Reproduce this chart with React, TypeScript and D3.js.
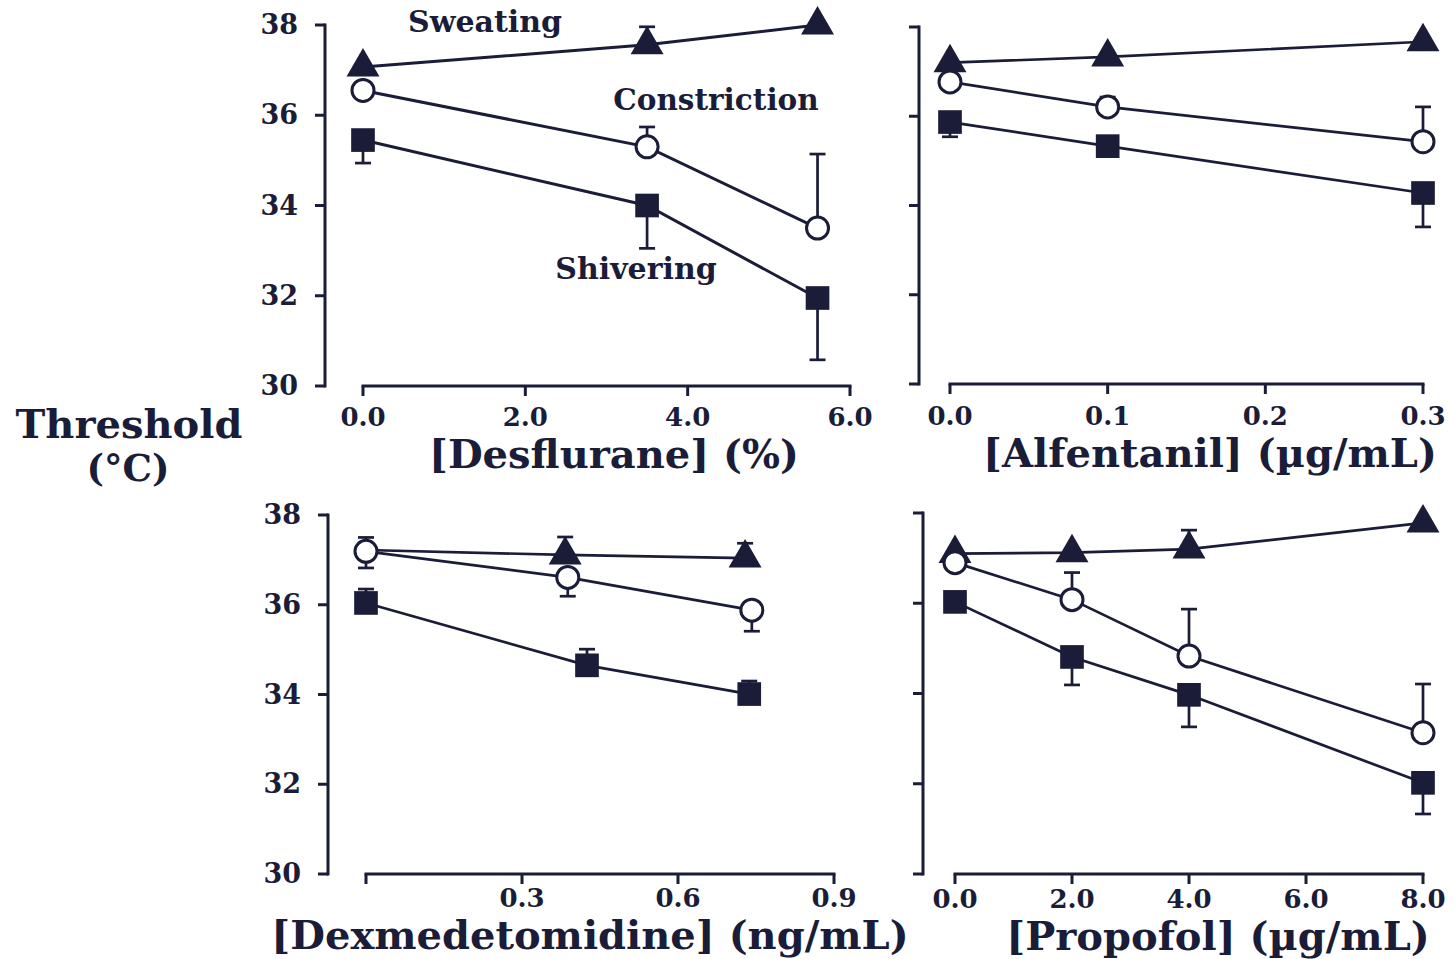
import React from 'react';
import * as d3 from 'd3';

const INK = '#1a1c38';
const FONT = '"DejaVu Serif", serif';

const yTicks = [30, 32, 34, 36, 38];

// Panel A: Desflurane
const desTicks = [0, 2, 4, 6];
const desTickLabels = ['0.0', '2.0', '4.0', '6.0'];
const desX = [0, 3.5, 5.6];
const desSweat = [37.07, 37.56, 38.0];
const desSweatErr = [0, 0.4, 0];
const desConstr = [36.55, 35.3, 33.5];
const desConstrErr = [0, 0.44, 1.64];
const desShiver = [35.45, 34.0, 31.95];
const desShiverErr = [-0.51, -0.95, -1.37];

// Panel B: Alfentanil
const alfTicks = [0, 0.1, 0.2, 0.3];
const alfTickLabels = ['0.0', '0.1', '0.2', '0.3'];
const alfX = [0, 0.1, 0.3];
const alfSweat = [37.2, 37.33, 37.67];
const alfSweatErr = [0, 0, 0];
const alfConstr = [36.77, 36.21, 35.43];
const alfConstrErr = [0, 0.22, 0.78];
const alfShiver = [35.87, 35.33, 34.28];
const alfShiverErr = [-0.33, 0, -0.76];

// Panel C: Dexmedetomidine
const dexTicks = [0, 0.3, 0.6, 0.9];
const dexTickLabels = ['', '0.3', '0.6', '0.9'];
const dexSweatX = [0, 0.383, 0.729];
const dexSweat = [37.22, 37.11, 37.04];
const dexSweatErr = [0.28, 0.4, 0.33];
const dexSweatShown = [false, true, true];
const dexConstrX = [0, 0.388, 0.742];
const dexConstr = [37.19, 36.61, 35.88];
const dexConstrErr = [-0.37, -0.42, -0.47];
const dexShiverX = [0, 0.425, 0.737];
const dexShiver = [36.04, 34.65, 34.01];
const dexShiverErr = [0.31, 0.36, 0.29];

// Panel D: Propofol
const proTicks = [0, 2, 4, 6, 8];
const proTickLabels = ['0.0', '2.0', '4.0', '6.0', '8.0'];
const proX = [0, 2, 4, 8];
const proSweat = [37.1, 37.12, 37.2, 37.78];
const proSweatErr = [0, 0, 0.42, 0];
const proConstr = [36.9, 36.08, 34.83, 33.13];
const proConstrErr = [0, 0.6, 1.04, 1.08];
const proShiver = [36.03, 34.81, 33.97, 32.02];
const proShiverErr = [0, -0.62, -0.71, -0.69];

type Marker = 'tri' | 'circle' | 'square';
interface Series { x: number[]; y: number[]; err: number[]; marker: Marker; shown?: boolean[] }
interface PanelCfg {
  axisX: number; xRange: [number, number]; yTop: number; yBottom: number;
  xDomain: [number, number]; ticks: number[]; tickLabels: string[]; tickDy: number;
  title: string; titleX: number; titleY: number; lineW: number;
  series: Series[];
}

const panels: PanelCfg[] = [
  {
    axisX: 325, xRange: [363, 850], yTop: 25, yBottom: 386, xDomain: [0, 6],
    ticks: desTicks, tickLabels: desTickLabels, tickDy: 40, title: '[Desflurane] (%)', titleX: 614, titleY: 468, lineW: 3,
    series: [
      { x: desX, y: desSweat, err: desSweatErr, marker: 'tri' },
      { x: desX, y: desConstr, err: desConstrErr, marker: 'circle' },
      { x: desX, y: desShiver, err: desShiverErr, marker: 'square' },
    ],
  },
  {
    axisX: 919, xRange: [950, 1423], yTop: 27, yBottom: 384, xDomain: [0, 0.3],
    ticks: alfTicks, tickLabels: alfTickLabels, tickDy: 41, title: '[Alfentanil] (µg/mL)', titleX: 1210, titleY: 467, lineW: 2.7,
    series: [
      { x: alfX, y: alfSweat, err: alfSweatErr, marker: 'tri' },
      { x: alfX, y: alfConstr, err: alfConstrErr, marker: 'circle' },
      { x: alfX, y: alfShiver, err: alfShiverErr, marker: 'square' },
    ],
  },
  {
    axisX: 328, xRange: [366, 834], yTop: 515, yBottom: 874, xDomain: [0, 0.9],
    ticks: dexTicks, tickLabels: dexTickLabels, tickDy: 33, title: '[Dexmedetomidine] (ng/mL)', titleX: 590, titleY: 949, lineW: 2.7,
    series: [
      { x: dexSweatX, y: dexSweat, err: dexSweatErr, marker: 'tri', shown: dexSweatShown },
      { x: dexConstrX, y: dexConstr, err: dexConstrErr, marker: 'circle' },
      { x: dexShiverX, y: dexShiver, err: dexShiverErr, marker: 'square' },
    ],
  },
  {
    axisX: 923, xRange: [955, 1423], yTop: 513, yBottom: 874, xDomain: [0, 8],
    ticks: proTicks, tickLabels: proTickLabels, tickDy: 34, title: '[Propofol] (µg/mL)', titleX: 1218, titleY: 950, lineW: 2.7,
    series: [
      { x: proX, y: proSweat, err: proSweatErr, marker: 'tri' },
      { x: proX, y: proConstr, err: proConstrErr, marker: 'circle' },
      { x: proX, y: proShiver, err: proShiverErr, marker: 'square' },
    ],
  },
];

const showYLabels = [true, false, true, false];

const triPath = d3.symbol(d3.symbolTriangle, 470)() as string;
const sqPath = d3.symbol(d3.symbolSquare, 560)() as string;

function Panel({ p, labels }: { p: PanelCfg; labels: boolean }) {
  const x = d3.scaleLinear().domain(p.xDomain).range(p.xRange);
  const y = d3.scaleLinear().domain([30, 38]).range([p.yBottom, p.yTop]);
  const line = d3.line<[number, number]>().x(d => x(d[0])).y(d => y(d[1]));
  const order: Marker[] = ['square', 'tri', 'circle'];
  return (
    <g>
      <line x1={p.axisX} x2={p.axisX} y1={y(38) - 1.5} y2={y(30) + 1.5} stroke={INK} strokeWidth={3} />
      {yTicks.map(t => (
        <g key={t}>
          <line x1={p.axisX - 10} x2={p.axisX} y1={y(t)} y2={y(t)} stroke={INK} strokeWidth={3} />
          {labels && (
            <text x={p.axisX - 27} y={y(t) + 9} textAnchor="end" fontFamily={FONT} fontWeight="bold" fontSize={27} fill={INK}>{t}</text>
          )}
        </g>
      ))}
      <line x1={p.xRange[0] - 1.5} x2={p.xRange[1] + 1.5} y1={p.yBottom} y2={p.yBottom} stroke={INK} strokeWidth={3} />
      {p.ticks.map((t, i) => (
        <g key={i}>
          <line x1={x(t)} x2={x(t)} y1={p.yBottom} y2={p.yBottom + 10} stroke={INK} strokeWidth={3} />
          {p.tickLabels[i] && (
            <text x={x(t)} y={p.yBottom + p.tickDy} textAnchor="middle" fontFamily={FONT} fontWeight="bold" fontSize={26} fill={INK}>{p.tickLabels[i]}</text>
          )}
        </g>
      ))}
      <text x={p.titleX} y={p.titleY} textAnchor="middle" fontFamily={FONT} fontWeight="bold" fontSize={40} fill={INK}>{p.title}</text>
      {p.series.map((s, i) => (
        <path key={i} d={line(s.x.map((v, j) => [v, s.y[j]]) as [number, number][]) as string} fill="none" stroke={INK} strokeWidth={p.lineW} />
      ))}
      {p.series.map((s, i) => s.err.map((e, j) => e === 0 ? null : (
        <g key={`${i}-${j}`}>
          <line x1={x(s.x[j])} x2={x(s.x[j])} y1={y(s.y[j])} y2={y(s.y[j] + e)} stroke={INK} strokeWidth={2.7} />
          <line x1={x(s.x[j]) - 8} x2={x(s.x[j]) + 8} y1={y(s.y[j] + e)} y2={y(s.y[j] + e)} stroke={INK} strokeWidth={2.7} />
        </g>
      )))}
      {order.map(m => p.series.filter(s => s.marker === m).map((s, i) => s.x.map((v, j) => {
        if (s.shown && !s.shown[j]) return null;
        const cx = x(v), cy = y(s.y[j]);
        if (m === 'circle') return <circle key={`${m}${i}${j}`} cx={cx} cy={cy} r={11} fill="#fff" stroke={INK} strokeWidth={3} />;
        return <path key={`${m}${i}${j}`} d={m === 'tri' ? triPath : sqPath} transform={`translate(${cx},${cy})`} fill={INK} />;
      })))}
    </g>
  );
}

export default function App() {
  return (
    <div style={{ position: 'absolute', left: 0, top: 0 }}>
      <svg width={1455} height={959} viewBox="0 0 1455 959" style={{ display: 'block', background: '#fff' }}>
        <rect width={1455} height={959} fill="#fff" />
        {panels.map((p, i) => <Panel key={i} p={p} labels={showYLabels[i]} />)}
        <text x={129} y={438} textAnchor="middle" fontFamily={FONT} fontWeight="bold" fontSize={40} fill={INK}>Threshold</text>
        <text x={128} y={481} textAnchor="middle" fontFamily={FONT} fontWeight="bold" fontSize={37} fill={INK}>(°C)</text>
        <text x={485} y={32} textAnchor="middle" fontFamily={FONT} fontWeight="bold" fontSize={30} fill={INK}>Sweating</text>
        <text x={716} y={110} textAnchor="middle" fontFamily={FONT} fontWeight="bold" fontSize={29.5} fill={INK}>Constriction</text>
        <text x={636} y={279} textAnchor="middle" fontFamily={FONT} fontWeight="bold" fontSize={30} fill={INK}>Shivering</text>
      </svg>
    </div>
  );
}
